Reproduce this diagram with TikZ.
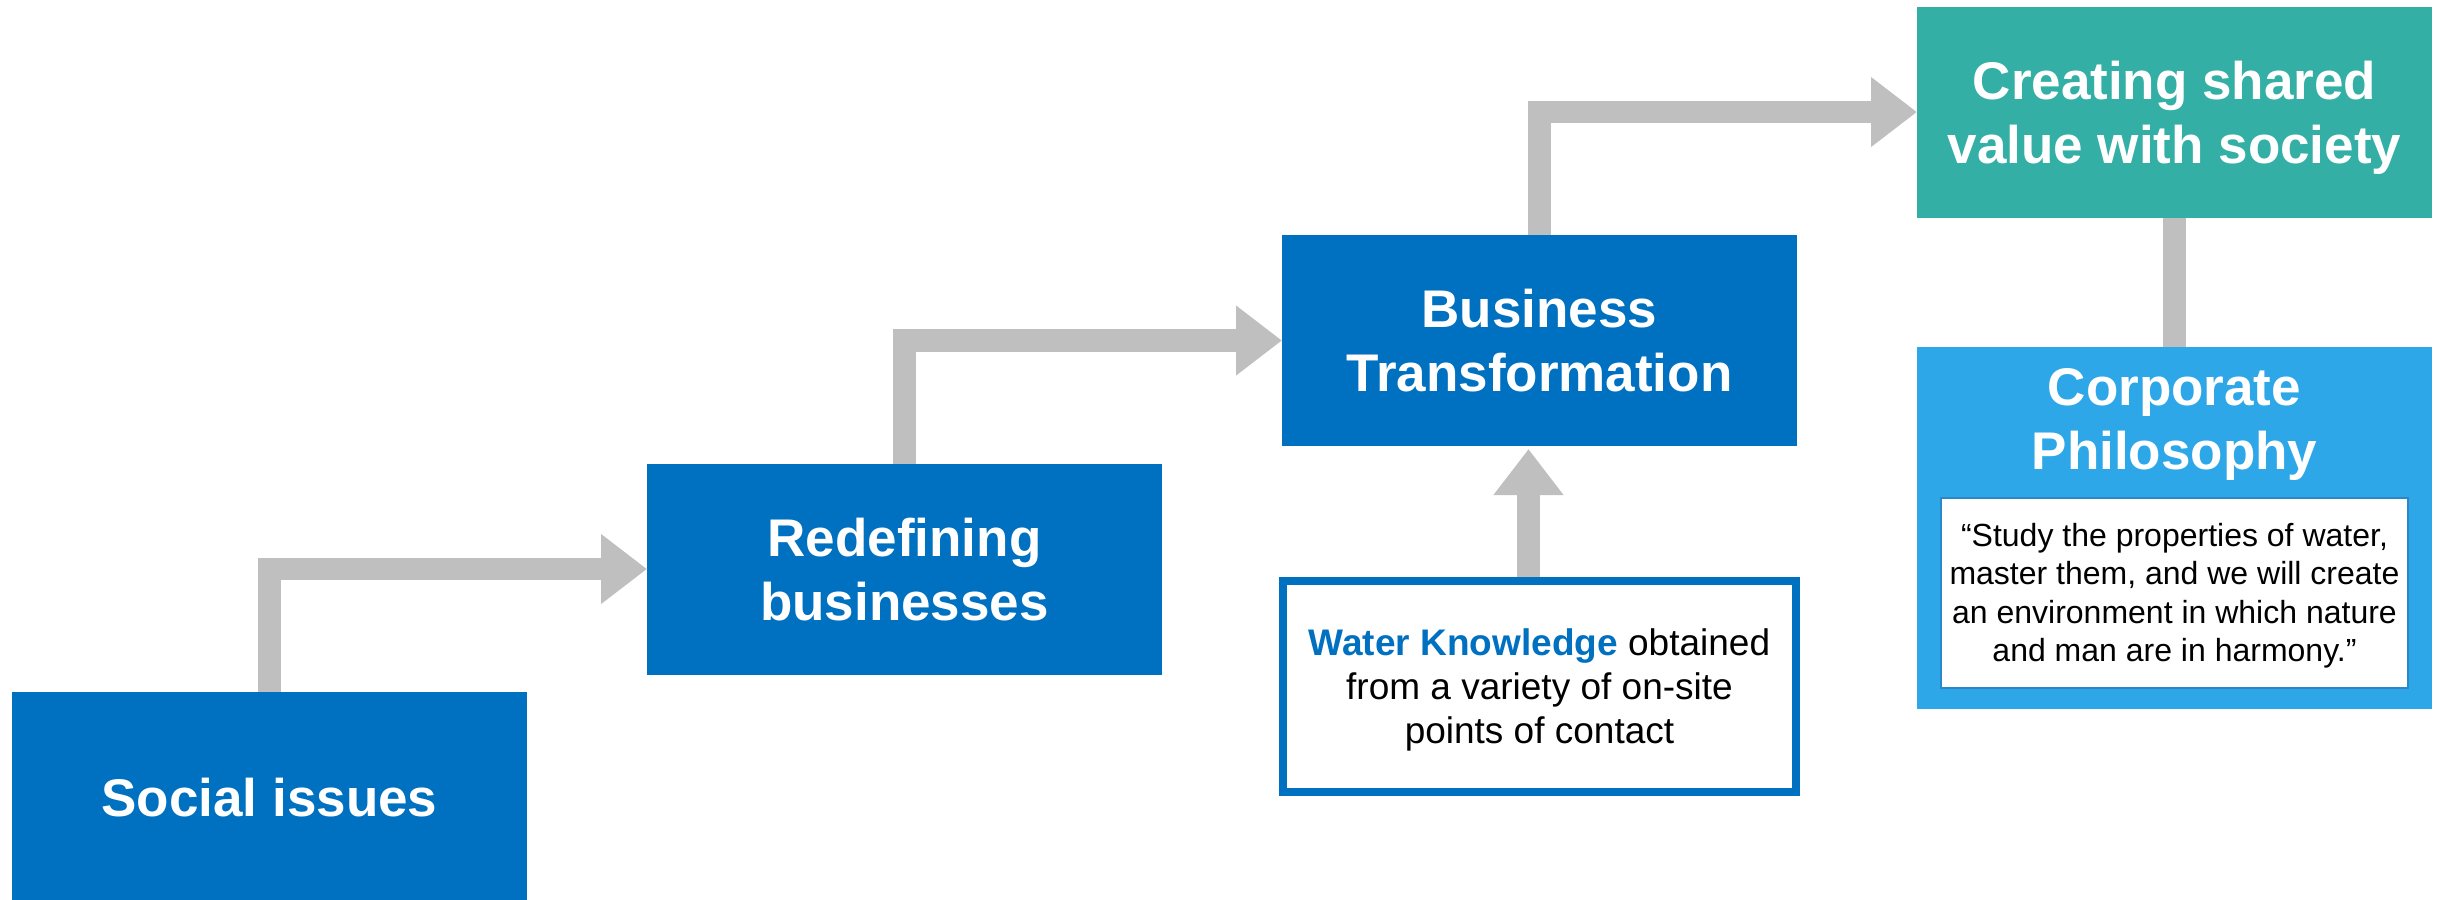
\documentclass[tikz,border=0pt]{standalone}
\usepackage{fontspec}
\setmainfont{Liberation Sans}
\usetikzlibrary{arrows.meta,positioning}
\definecolor{boxblue}{HTML}{0070C0}
\definecolor{boxteal}{HTML}{33AFA5}
\definecolor{boxsky}{HTML}{2EA7E8}
\definecolor{flowgray}{HTML}{BFBFBF}
\definecolor{quoteline}{HTML}{2A88C9}
\newcommand{\titlefont}{\fontsize{15.9pt}{19.2pt}\selectfont\bfseries}
\newcommand{\bodyfont}{\fontsize{11.1pt}{13.2pt}\selectfont}
\newcommand{\quotefont}{\fontsize{9.6pt}{11.55pt}\selectfont}
\tikzstyle{box}=[rectangle,minimum width=154.5pt,minimum height=63.3pt,inner sep=0pt,outer sep=0pt,fill=boxblue,text=white,align=center,text depth=0pt,font=\titlefont]
\tikzstyle{info}=[rectangle,draw=boxblue,line width=2.4pt,fill=white,minimum width=153.9pt,minimum height=63.3pt,inner sep=0pt,align=center,text depth=0pt,font=\bodyfont]
\tikzstyle{quote}=[rectangle,draw=quoteline,line width=0.6pt,fill=white,minimum width=140.1pt,minimum height=57pt,inner sep=0pt,align=center,text depth=0pt,font=\quotefont]
\tikzstyle{flow}=[-{Triangle[length=13.8pt,width=20.1pt]},draw=flowgray,line width=6.75pt]

\begin{document}
\begin{tikzpicture}[x=0.3pt,y=0.3pt,node distance=36pt]
            \useasboundingbox (0,0) rectangle (2443,-899);
            \node (S) [box] at (269.5,-797.5) {Social issues};
            \node (R) [box] [right=of S, yshift=68.55pt] {Redefining\\businesses};
            \node (B) [box] [right=of R, yshift=68.55pt] {Business\\Transformation};
            \node (C) [box, fill=boxteal] [right=of B, yshift=68.55pt] {Creating shared\\value with society};
            \node (P) [box, fill=boxsky, minimum height=108.6pt] [below=38.7pt of C] {};
            \node (T) [inner sep=0pt, text=white, align=center, text depth=0pt, font=\titlefont] [below=6.3pt of P.north] {Corporate\\Philosophy};
            \node (Q) [quote] [above=6pt of P.south] {“Study the properties of water,\\master them, and we will create\\an environment in which nature\\and man are in harmony.”};
            \node (W) [info] [below=39.15pt of B] {{\bfseries\color{boxblue}Water Knowledge} obtained\\from a variety of on-site\\points of contact};

            \draw[flow] (S.north) |- (R.west);
            \draw[flow] (R.north) |- (B.west);
            \draw[flow] (B.north) |- (C.west);
            \draw[flow] ([xshift=-3.3pt]W.north) -- ([xshift=-3.3pt,yshift=-0.9pt]B.south);
            \draw[flowgray, line width=6.75pt] (C.south) -- (P.north);
\end{tikzpicture}
\end{document}
